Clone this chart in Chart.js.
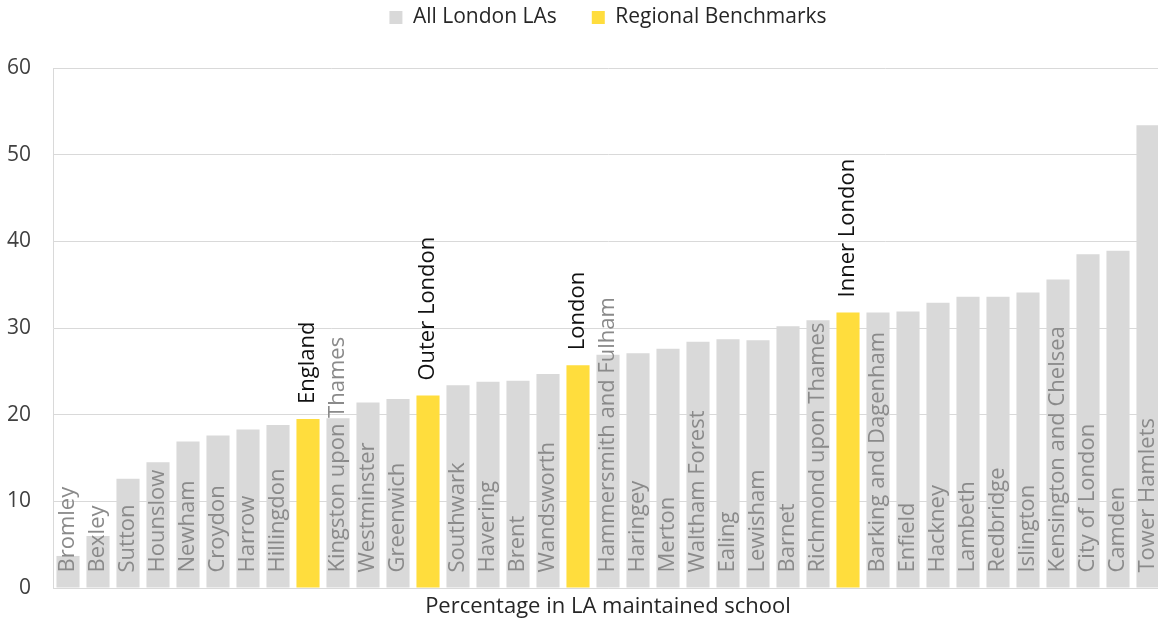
<!DOCTYPE html>
<html>
<head>
<meta charset="utf-8">
<script src="https://cdn.jsdelivr.net/npm/chart.js@4"></script>
<style>
  body { margin: 0; background: #fff; }
  #wrap { width: 1158px; height: 624px; overflow: hidden; }
</style>
</head>
<body>
<div id="wrap"><canvas id="la-graph-canv" width="1163" height="624"></canvas></div>
<script>
const categories = [
    'Bromley', 'Bexley', 'Sutton', 'Hounslow', 'Newham', 'Croydon', 'Harrow',
    'Hillingdon', 'England', 'Kingston upon Thames', 'Westminster', 'Greenwich',
    'Outer London', 'Southwark', 'Havering', 'Brent', 'Wandsworth', 'London',
    'Hammersmith and Fulham', 'Haringey', 'Merton', 'Waltham Forest', 'Ealing',
    'Lewisham', 'Barnet', 'Richmond upon Thames', 'Inner London',
    'Barking and Dagenham', 'Enfield', 'Hackney', 'Lambeth', 'Redbridge',
    'Islington', 'Kensington and Chelsea', 'City of London', 'Camden', 'Tower Hamlets'
];

const shares = [
    3.7, 6.0, 12.6, 14.5, 16.9, 17.6, 18.3,
    18.8, 19.5, 19.6, 21.4, 21.8,
    22.2, 23.4, 23.8, 23.9, 24.7, 25.7,
    26.9, 27.1, 27.6, 28.4, 28.7,
    28.6, 30.2, 30.9, 31.8,
    31.8, 31.9, 32.9, 33.6, 33.6,
    34.1, 35.6, 38.5, 38.9, 53.4
];

const benchmarks = ['England', 'Outer London', 'London', 'Inner London'];

const yTicks = [0, 10, 20, 30, 40, 50, 60];

const grey = '#d9d9d9';
const yellow = '#ffdd3d';
const fontFamily = "'Open Sans', 'Noto Sans', sans-serif";

const laValues = shares.map((v, i) => benchmarks.includes(categories[i]) ? null : v);
const benchValues = shares.map((v, i) => benchmarks.includes(categories[i]) ? v : null);

// names written up the bars: grey inside LA bars, black above the benchmark bars
const barLabels = {
    id: 'barLabels',
    beforeInit(chart) {
        // leave a gap between the legend and the plot
        const originalFit = chart.legend.fit;
        chart.legend.fit = function fit() {
            originalFit.bind(chart.legend)();
            this.height += 30;
        };
    },
    afterDatasetsDraw(chart) {
        const ctx = chart.ctx;
        ctx.save();
        ctx.font = '22px ' + fontFamily;
        ctx.textAlign = 'left';
        ctx.textBaseline = 'middle';
        chart.data.datasets.forEach((ds, di) => {
            const meta = chart.getDatasetMeta(di);
            meta.data.forEach((bar, i) => {
                if (ds.data[i] == null) return;
                const isBench = di === 1;
                const startY = isBench ? bar.y - 15 : bar.base - 15;
                ctx.save();
                ctx.translate(bar.x, startY);
                ctx.rotate(-Math.PI / 2);
                ctx.fillStyle = isBench ? '#111111' : '#8a8a8a';
                ctx.fillText(categories[i], 0, 0);
                ctx.restore();
            });
        });
        ctx.restore();
    }
};

const data = {
    labels: categories,
    datasets: [{
        label: 'All London LAs',
        backgroundColor: grey,
        data: laValues,
        barPercentage: 0.77,
        categoryPercentage: 1,
        grouped: false,
        }, {
        label: 'Regional Benchmarks',
        backgroundColor: yellow,
        data: benchValues,
        barPercentage: 0.77,
        categoryPercentage: 1,
        grouped: false,
        }]
    };

const config = {
    type: 'bar',
    data,
    options: {
        responsive: false,
        animation: false,
        layout: {
            padding: { top: -28, right: 0, left: 0, bottom: 0 }
        },
        scales: {
            x: {
                grid: { display: false },
                border: { display: true, color: grey },
                ticks: { display: false },
                title: {
                    display: true,
                    text: 'Percentage in LA maintained school',
                    color: '#262626',
                    font: { size: 22, family: fontFamily },
                    padding: { top: 0, bottom: 4 }
                },
                afterFit(scale) { scale.height = 36; }
            },
            y: {
                min: 0,
                max: 60,
                grid: {
                    color: grey,
                    drawTicks: false,
                },
                border: { display: true, color: grey },
                ticks: {
                    stepSize: 10,
                    color: '#404040',
                    padding: 22,
                    font: { size: 21, family: fontFamily },
                    callback: (v) => yTicks.includes(v) ? v : ''
                },
                afterFit(scale) { scale.width = 53; }
            }
        },
        plugins: {
            legend: {
                position: 'top',
                fullSize: false,
                labels: {
                    boxWidth: 13,
                    boxHeight: 13,
                    padding: 35,
                    color: '#262626',
                    font: { size: 21, family: fontFamily }
                }
            },
            tooltip: { enabled: false }
        }
    },
    plugins: [barLabels]
    };

var myChart = new Chart(
    document.getElementById('la-graph-canv'),
    config
);
</script>
</body>
</html>
